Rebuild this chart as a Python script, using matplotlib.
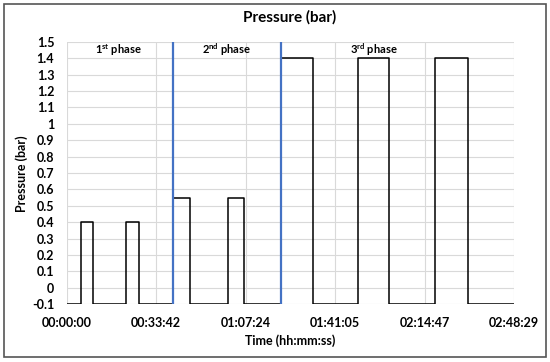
import matplotlib
matplotlib.use("Agg")
import matplotlib.pyplot as plt
from matplotlib.patches import Rectangle

# ---- data ----
time_s = [0, 323, 601, 1347, 1627, 2400, 2780, 3639, 4007, 4850, 5573, 6577, 7291, 8317, 9069, 10109]
pressure_bar = [-0.1, 0.4, -0.1, 0.4, -0.1, 0.55, -0.1, 0.55, -0.1, 1.4, -0.1, 1.4, -0.1, 1.4, -0.1, -0.1]
phase_lines_s = [2400, 4850]
phase_labels = [r"1$^{\mathbf{st}}$ phase", r"2$^{\mathbf{nd}}$ phase", r"3$^{\mathbf{rd}}$ phase"]
phase_label_x = [1170, 3623, 6950]
x_tick_labels = ["00:00:00", "00:33:42", "01:07:24", "01:41:05", "02:14:47", "02:48:29"]
y_ticks = [-0.1, 0, 0.1, 0.2, 0.3, 0.4, 0.5, 0.6, 0.7, 0.8, 0.9, 1, 1.1, 1.2, 1.3, 1.4, 1.5]

def to_sec(s):
    h, m, sec = (int(v) for v in s.split(":"))
    return h * 3600 + m * 60 + sec

x_ticks = [to_sec(s) for s in x_tick_labels]

plt.rcParams['font.family'] = ['Lato', 'DejaVu Sans']
plt.rcParams['mathtext.fontset'] = 'custom'
plt.rcParams['mathtext.rm'] = 'Lato'
plt.rcParams['mathtext.bf'] = 'Lato:bold'

fig = plt.figure(figsize=(5.5, 3.62), dpi=100)
ax = fig.add_axes([0.1213, 0.1602, 0.8132, 0.7238])

ax.step(time_s, pressure_bar, where='post', color='black', lw=1.1, zorder=3)
for xl in phase_lines_s:
    ax.axvline(xl, color='#4472C4', lw=1.6, zorder=4)
for lab, xp in zip(phase_labels, phase_label_x):
    ax.text(xp, 1.45, lab, ha='center', va='center', fontsize=8, fontweight='bold')

ax.set_xlim(x_ticks[0], x_ticks[-1])
ax.set_ylim(-0.1, 1.5)
ax.set_xticks(x_ticks)
ax.set_xticklabels(x_tick_labels)
ax.set_yticks(y_ticks)
ax.set_yticklabels([f"{v:g}" for v in y_ticks])
for lab in ax.get_xticklabels() + ax.get_yticklabels():
    lab.set_fontweight('bold')
    lab.set_fontsize(9)
ax.tick_params(axis='both', length=0)
ax.tick_params(axis='x', pad=9)
ax.tick_params(axis='y', pad=9)
ax.grid(True, color='#d9d9d9', lw=0.8)
ax.set_axisbelow(True)
for sp in ax.spines.values():
    sp.set_visible(False)

fig.text(0.527, 0.953, "Pressure (bar)", ha='center', va='center', fontsize=11, fontweight='bold')
fig.text(0.527, 0.058, "Time (hh:mm:ss)", ha='center', va='center', fontsize=9, fontweight='bold')
fig.text(0.04, 0.52, "Pressure (bar)", ha='center', va='center', rotation=90, fontsize=9, fontweight='bold')

fig.patches.append(Rectangle((0.007, 0.013), 0.986, 0.976, transform=fig.transFigure,
                             fill=False, edgecolor='#555555', lw=1.2))

fig.savefig("out.png", dpi=100)
